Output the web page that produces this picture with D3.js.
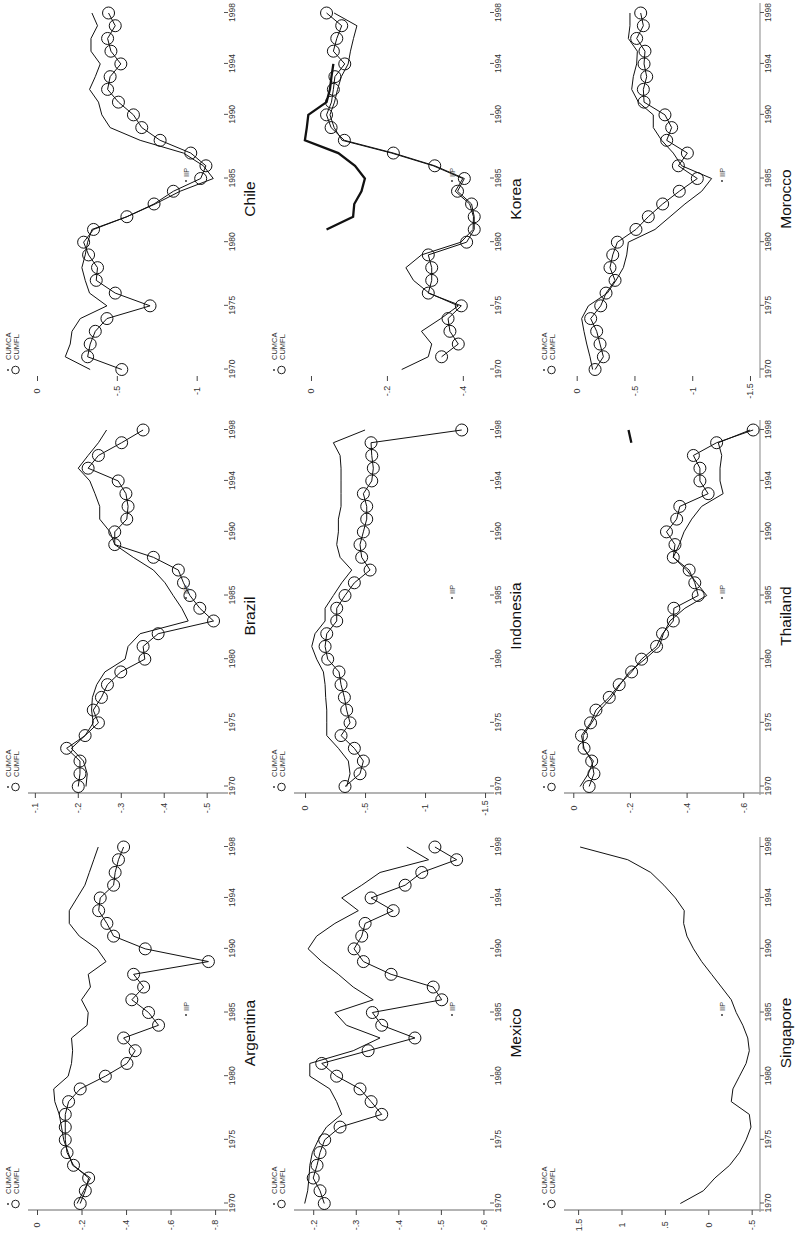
<!DOCTYPE html>
<html><head><meta charset="utf-8">
<script src="https://cdn.jsdelivr.net/npm/d3@7"></script>
<style>body{margin:0;background:#fff}svg{display:block}text{font-family:"Liberation Sans",Arial,sans-serif}</style>
</head><body><svg id="c" width="799" height="1238"></svg>
<script>
const years = [1970,1971,1972,1973,1974,1975,1976,1977,1978,1979,1980,1981,1982,1983,1984,1985,1986,1987,1988,1989,1990,1991,1992,1993,1994,1995,1996,1997,1998];
const yearTicks = [1970,1975,1980,1985,1990,1994,1998];
const countries = ["Chile","Brazil","Argentina","Korea","Indonesia","Mexico","Morocco","Thailand","Singapore"];
const N = null;

const chiCUMCA = [-0.333,-0.177,-0.208,-0.219,-0.271,-0.438,-0.329,-0.302,-0.281,-0.302,-0.317,-0.344,-0.563,-0.740,-0.896,-1.104,-1.042,-0.917,-0.646,-0.458,-0.406,-0.385,-0.329,-0.365,-0.396,-0.338,-0.338,-0.379,-0.344];
const chiCUMFL = [-0.531,-0.317,-0.333,-0.365,-0.438,-0.708,-0.490,-0.371,-0.379,-0.323,-0.292,-0.354,-0.563,-0.733,-0.854,-1.025,-1.058,-0.963,-0.771,-0.656,-0.604,-0.510,-0.442,-0.458,-0.525,-0.463,-0.442,-0.490,-0.448];
const chiTicks = [0,-0.5,-1];
const chiDomain = [0,-1.146];

const braCUMCA = [-0.219,-0.222,-0.213,-0.185,-0.217,-0.236,-0.232,-0.234,-0.244,-0.263,-0.310,-0.317,-0.345,-0.457,-0.442,-0.422,-0.403,-0.376,-0.329,-0.286,-0.275,-0.251,-0.251,-0.240,-0.228,-0.201,-0.224,-0.248,-0.267];
const braCUMFL = [-0.201,-0.205,-0.205,-0.174,-0.217,-0.248,-0.236,-0.255,-0.269,-0.300,-0.356,-0.352,-0.387,-0.516,-0.484,-0.461,-0.446,-0.434,-0.376,-0.286,-0.286,-0.314,-0.317,-0.312,-0.294,-0.224,-0.248,-0.302,-0.352];
const braTicks = [-0.1,-0.2,-0.3,-0.4,-0.5];
const braDomain = [-0.105,-0.531];

const argCUMCA = [-0.180,-0.210,-0.240,-0.160,-0.140,-0.120,-0.110,-0.100,-0.080,-0.075,-0.140,-0.155,-0.160,-0.155,-0.225,-0.230,-0.200,-0.240,-0.230,-0.310,-0.270,-0.190,-0.145,-0.145,-0.180,-0.215,-0.235,-0.255,-0.275];
const argCUMFL = [-0.194,-0.217,-0.232,-0.164,-0.135,-0.127,-0.127,-0.127,-0.142,-0.194,-0.307,-0.404,-0.441,-0.389,-0.546,-0.501,-0.426,-0.479,-0.434,-0.770,-0.486,-0.344,-0.314,-0.277,-0.284,-0.344,-0.351,-0.366,-0.389];
const argTicks = [0,-0.2,-0.4,-0.6,-0.8];
const argDomain = [0,-0.822];

const korCUMCA = [-0.239,-0.309,-0.318,-0.291,-0.342,-0.388,-0.311,-0.270,-0.250,-0.291,-0.395,-0.427,-0.428,-0.418,-0.380,-0.400,-0.322,-0.212,-0.082,-0.061,-0.050,-0.062,-0.070,-0.080,-0.098,-0.104,-0.112,-0.121,-0.061];
const korCUMFL = [N,-0.344,-0.388,-0.366,-0.361,-0.396,-0.309,-0.318,-0.318,-0.309,-0.410,-0.430,-0.430,-0.423,-0.386,-0.404,-0.326,-0.217,-0.088,-0.053,-0.041,-0.054,-0.059,-0.063,-0.089,-0.059,-0.068,-0.081,-0.041];
const korIIP = [N,N,N,N,N,N,N,N,N,N,N,-0.041,-0.111,-0.114,-0.133,-0.142,-0.116,-0.072,0.016,0.011,0.007,-0.041,-0.050,-0.054,-0.059,N,N,N,N];
const korTicks = [0,-0.2,-0.4];
const korDomain = [0.021,-0.461];

const indCUMCA = [-0.347,-0.375,-0.361,-0.278,-0.181,-0.181,-0.181,-0.172,-0.167,-0.153,-0.097,-0.056,-0.083,-0.167,-0.167,-0.236,-0.306,-0.389,-0.292,-0.264,-0.278,-0.278,-0.300,-0.300,-0.300,-0.300,-0.292,-0.236,-0.500];
const indCUMFL = [-0.333,-0.458,-0.486,-0.411,-0.300,-0.375,-0.347,-0.328,-0.300,-0.283,-0.189,-0.167,-0.181,-0.264,-0.264,-0.333,-0.411,-0.542,-0.472,-0.458,-0.486,-0.514,-0.514,-0.486,-0.556,-0.569,-0.556,-0.550,-1.306];
const indTicks = [0,-0.5,-1,-1.5];
const indDomain = [0.017,-1.508];

const mexCUMCA = [-0.180,-0.187,-0.190,-0.192,-0.198,-0.212,-0.231,-0.267,-0.255,-0.239,-0.192,-0.192,-0.294,-0.357,-0.278,-0.251,-0.341,-0.294,-0.259,-0.220,-0.188,-0.208,-0.251,-0.306,-0.267,-0.314,-0.357,-0.471,-0.420];
const mexCUMFL = [-0.226,-0.216,-0.200,-0.209,-0.216,-0.227,-0.263,-0.361,-0.336,-0.310,-0.255,-0.220,-0.329,-0.439,-0.361,-0.339,-0.502,-0.482,-0.383,-0.318,-0.296,-0.314,-0.322,-0.388,-0.336,-0.416,-0.455,-0.537,-0.486];
const mexTicks = [-0.2,-0.3,-0.4,-0.5,-0.6];
const mexDomain = [-0.176,-0.606];

const morCUMCA = [-0.138,-0.115,-0.087,-0.063,-0.043,-0.101,-0.265,-0.340,-0.404,-0.433,-0.447,-0.678,-0.808,-0.937,-1.082,-1.168,-0.909,-0.836,-0.735,-0.663,-0.663,-0.534,-0.476,-0.490,-0.519,-0.525,-0.447,-0.461,-0.461];
const morCUMFL = [-0.159,-0.231,-0.202,-0.173,-0.121,-0.208,-0.254,-0.332,-0.288,-0.312,-0.352,-0.513,-0.620,-0.744,-0.888,-1.044,-0.880,-0.958,-0.779,-0.822,-0.764,-0.583,-0.577,-0.606,-0.583,-0.591,-0.519,-0.577,-0.554];
const morTicks = [0,-0.5,-1,-1.5];
const morDomain = [0.032,-1.552];

const thaCUMCA = [-0.024,-0.053,-0.071,-0.035,-0.035,-0.065,-0.094,-0.135,-0.165,-0.198,-0.253,-0.304,-0.318,-0.341,-0.394,-0.471,-0.435,-0.400,-0.353,-0.374,-0.391,-0.418,-0.453,-0.529,-0.518,-0.518,-0.524,-0.512,-0.624];
const thaCUMFL = [-0.056,-0.073,-0.065,-0.038,-0.029,-0.061,-0.080,-0.127,-0.162,-0.206,-0.241,-0.294,-0.315,-0.353,-0.355,-0.441,-0.429,-0.409,-0.353,-0.359,-0.329,-0.365,-0.376,-0.476,-0.447,-0.447,-0.424,-0.506,-0.635];
const thaIIP = [N,N,N,N,N,N,N,N,N,N,N,N,N,N,N,N,N,N,N,N,N,N,N,N,N,N,N,-0.205,-0.195];
const thaTicks = [0,-0.2,-0.4,-0.6];
const thaDomain = [0.001,-0.645];

const sinCUMCA = [0.322,0.057,-0.076,-0.246,-0.360,-0.436,-0.492,-0.473,-0.265,-0.284,-0.360,-0.436,-0.473,-0.455,-0.398,-0.322,-0.265,-0.152,-0.038,0.076,0.170,0.246,0.284,0.277,0.379,0.511,0.663,0.928,1.477];
const sinTicks = [1.5,1,0.5,0,-0.5];
const sinDomain = [1.559,-0.55];

const panels = [
  {name:"Chile", cumca:chiCUMCA, cumfl:chiCUMFL, iip:null, ticks:chiTicks, domain:chiDomain},
  {name:"Brazil", cumca:braCUMCA, cumfl:braCUMFL, iip:null, ticks:braTicks, domain:braDomain},
  {name:"Argentina", cumca:argCUMCA, cumfl:argCUMFL, iip:null, ticks:argTicks, domain:argDomain},
  {name:"Korea", cumca:korCUMCA, cumfl:korCUMFL, iip:korIIP, ticks:korTicks, domain:korDomain},
  {name:"Indonesia", cumca:indCUMCA, cumfl:indCUMFL, iip:null, ticks:indTicks, domain:indDomain},
  {name:"Mexico", cumca:mexCUMCA, cumfl:mexCUMFL, iip:null, ticks:mexTicks, domain:mexDomain},
  {name:"Morocco", cumca:morCUMCA, cumfl:morCUMFL, iip:null, ticks:morTicks, domain:morDomain},
  {name:"Thailand", cumca:thaCUMCA, cumfl:thaCUMFL, iip:thaIIP, ticks:thaTicks, domain:thaDomain},
  {name:"Singapore", cumca:sinCUMCA, cumfl:null, iip:null, ticks:sinTicks, domain:sinDomain}
];

const svg = d3.select("#c");
const Wp = 416;               // panel extent along the (rotated) year direction
const colX = [0, 266, 536];
const rowY = [0, 417, 834];
const x = d3.scaleLinear().domain([1970,1998]).range([Wp-369.5, Wp-13]);
const fmt = v => String(v).replace(/^(-?)0\./, "$1.");
const series = arr => years.map((yr,i)=>({year:yr, v:arr[i]}));

panels.forEach((p,i)=>{
  const col = Math.floor(i/3), row = i%3;
  const g = svg.append("g")
    .attr("transform", `translate(${colX[col]},${rowY[row]+Wp}) rotate(-90)`);
  const y = d3.scaleLinear().domain(p.domain).range([37,220]);

  // value axis
  if (row > 0) g.append("line").attr("x1",40).attr("x2",40).attr("y1",28).attr("y2",228)
      .attr("stroke","#9a9a9a").attr("stroke-width",1.6);
  const ya = g.append("g").attr("transform","translate(40,0)")
    .call(d3.axisLeft(y).tickValues(p.ticks).tickSize(5).tickPadding(8).tickFormat(fmt));
  ya.select(".domain").remove();
  ya.selectAll(".tick line").attr("stroke","#444");
  ya.selectAll(".tick text").attr("text-anchor","middle").attr("x",-15)
    .attr("fill","#333").style("font-size","9px");

  // year axis
  if (col === 2) g.append("line").attr("x1",38).attr("x2",413).attr("y1",224).attr("y2",224)
      .attr("stroke","#9a9a9a").attr("stroke-width",1.2);
  const xa = g.append("g").attr("transform","translate(0,224)")
    .call(d3.axisBottom(x).tickValues(yearTicks).tickSize(4).tickPadding(1).tickFormat(d3.format("d")));
  xa.select(".domain").remove();
  xa.selectAll(".tick line").attr("stroke","#555");
  xa.selectAll(".tick text").attr("fill","#333").style("font-size","8.5px");

  const line = d3.line().defined(d=>d.v!=null).x(d=>x(d.year)).y(d=>y(d.v));

  if (p.cumca) g.append("path").datum(series(p.cumca)).attr("d",line)
      .attr("fill","none").attr("stroke","#111").attr("stroke-width",1);
  if (p.cumfl) {
    const s = series(p.cumfl).filter(d=>d.v!=null);
    g.append("path").datum(s).attr("d",line)
      .attr("fill","none").attr("stroke","#111").attr("stroke-width",1);
    g.selectAll("circle.fl").data(s).join("circle").attr("class","fl")
      .attr("cx",d=>x(d.year)).attr("cy",d=>y(d.v)).attr("r",6)
      .attr("fill","none").attr("stroke","#111").attr("stroke-width",1);
  }
  if (p.iip) g.append("path").datum(series(p.iip)).attr("d",line)
      .attr("fill","none").attr("stroke","#111").attr("stroke-width",2.3);

  // legend
  g.append("circle").attr("cx",46).attr("cy",8).attr("r",0.9).attr("fill","#222");
  g.append("text").attr("x",56).attr("y",10.8).text("CUMCA").style("font-size","7.5px").attr("fill","#333");
  g.append("circle").attr("cx",46).attr("cy",15.5).attr("r",3.8).attr("fill","none").attr("stroke","#222");
  g.append("text").attr("x",56).attr("y",18.5).text("CUMFL").style("font-size","7.5px").attr("fill","#333");
  g.append("circle").attr("cx",235).attr("cy",186).attr("r",0.9).attr("fill","#222");
  g.append("text").attr("x",239).attr("y",189).text("IIP").style("font-size","7.5px").attr("fill","#333");

  // title
  g.append("text").attr("x",Wp-199).attr("y",255).attr("text-anchor","middle")
    .style("font-size","15.5px").attr("fill","#111").text(p.name);
});
</script>
</body></html>
